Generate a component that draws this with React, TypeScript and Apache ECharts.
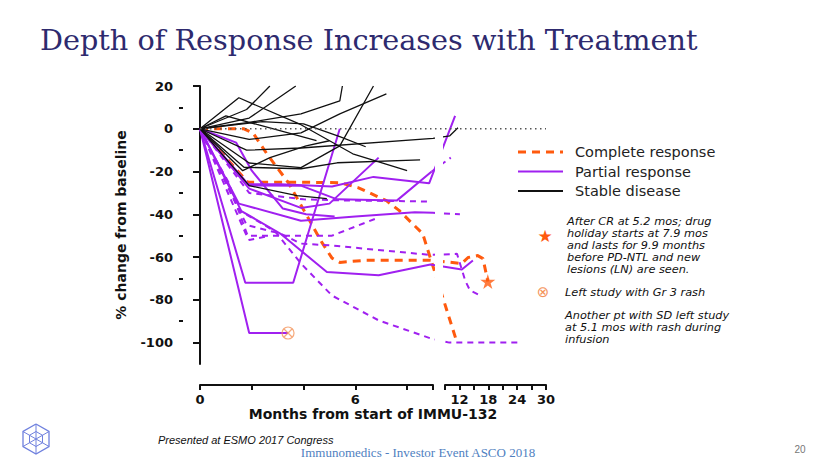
import React, { useEffect, useRef } from 'react';
import * as echarts from 'echarts';

// ---------- data: [months, % change from baseline] ----------
const completeResponse: number[][][] = [
  [[0,0],[1.7,0],[2.05,-2],[2.6,-12],[3.4,-25],[4.1,-40],[4.7,-53],[5.1,-60.5],[5.4,-62.5],[6.4,-61.5],[8.9,-61.5],[12.5,-63],[13.8,-60.2],[15.8,-59.3],[16.9,-60.7],[17.9,-71.4]],
  [[0,0],[1.85,-25],[3.9,-25],[5.4,-25.2],[6.1,-27.5],[7.2,-33.6],[7.7,-38.3],[8.2,-44.3],[8.6,-49],[11.5,-100]],
];

const partialResponse: number[][][] = [
  [[0,0],[1.9,-95.5],[3.4,-95.5]],
  [[0,0],[1.75,-72],[3.6,-72],[5.4,0]],
  [[0,0],[1.6,-38.5],[3.1,-49],[4.9,-67],[6.9,-68.5],[8.9,-63.5],[12.5,-65.8],[14.8,-61.6]],
  [[0,0],[1.5,-35],[3.9,-43],[6.0,-41],[8.3,-39],[9.0,-39.3]],
  [[0,0],[1.8,-26],[3.1,-26],[5.1,-27],[6.7,-22.5],[8.85,-25.5],[11.1,6]],
  [[0,0],[1.9,-28],[3.9,-37],[5.0,-35],[6.9,-13.5]],
  [[0,0],[1.9,-26.5],[3.9,-26.6],[5.3,-33],[7.6,-33.6],[8.95,-20]],
  [[0,0],[1.4,-6.5],[2.0,-19.6],[3.2,-37.3],[4.1,-40],[5.2,-41]],
];

const partialResponseDashed: number[][][] = [
  [[0,0],[1.8,-45],[3.1,-49],[3.9,-53.7],[5.1,-54.6],[8.9,-59],[11.5,-58.5],[12.5,-65.8],[13.2,-71],[14.2,-75.6],[16.7,-78.4]],
  [[0,0],[1.8,-50],[3.0,-50],[5.1,-50],[6.9,-41.5]],
  [[0,0],[1.5,-38],[2.9,-48],[3.9,-63],[5.1,-78],[6.9,-89.6],[8.9,-98],[9.9,-100],[24.2,-100]],
  [[9.0,-39.3],[12.1,-40]],
  [[8.95,-20],[10.2,-13.5]],
  [[0,0],[1.9,-30],[4.0,-33],[5.5,-33.5],[8.8,-34]],
  [[0,0],[0.5,-12],[1.1,-25],[1.6,-42],[1.9,-52],[2.7,-50]],
];

const stableDisease: number[][][] = [
  [[0,0],[1.5,14.5],[3.9,1.9],[5.9,-11.7],[8.0,-19.6]],
  [[0,0],[1.8,9],[2.7,20]],
  [[0,0],[1.9,5],[3.7,20]],
  [[0,0],[1.9,3],[3.9,7],[5.4,13],[5.5,20]],
  [[0,0],[1.9,-16],[3.9,-18.2],[5.4,-8],[6.7,20]],
  [[0,0],[1.9,-5],[3.9,-1.9],[5.4,7],[7.2,16.3]],
  [[0,0],[1.8,-10],[3.9,-9],[9.0,-4.5],[10.0,-3.3],[11.7,0.5]],
  [[0,0],[2.4,3.3],[4.0,2.3],[5.4,-3.7],[6.4,-8.4]],
  [[0,0],[1.7,-18],[3.9,-18.7],[5.3,-15.9],[8.5,-14.5]],
  [[0,0],[1.9,-26.6],[3.75,-31.3],[4.9,-32.7]],
  [[0,0],[1.65,-19.6],[2.7,-13.5],[4.1,-8],[5.0,-5.6]],
  [[0,0],[1.0,6],[2.2,2],[4.5,-5.5]],
];

const yMajorTicks = [-100, -80, -60, -40, -20, 0, 20];
const yMinorTicks = [-90, -70, -50, -30, -10, 10];
const xSeg1Ticks = [0, 2, 4, 6, 8, 9];
const xSeg1Labels = [0, 6];
const legendNames = ['Complete response', 'Partial response', 'Stable disease'];

// ---------- layout of the broken x axis ----------
const GRID_LEFT = 200, GRID_TOP = 86, GRID_H = 278;
const SEG1_PX = 233, GAP_PX = 12, SEG2_PX = 101;
const BREAK = 9, XMAX = 30;
const PX_PER_M1 = SEG1_PX / BREAK;
const pos = (m: number) => (m <= BREAK ? m : BREAK + (GAP_PX + ((m - BREAK) * SEG2_PX) / (XMAX - BREAK)) / PX_PER_M1);
const POS_MAX = BREAK + (GAP_PX + SEG2_PX) / PX_PER_M1;

const ORANGE = '#FF5A0E';
const PURPLE = '#A020F0';
const BLACK = '#111111';
const MARK = '#F4935A';

const STAR = 'path://M50,0 L61,35 L98,35 L68,57 L79,91 L50,70 L21,91 L32,57 L2,35 L39,35 Z';
const OTIMES = 'path://M0,10 A10,10 0 1,1 20,10 A10,10 0 1,1 0,10 Z M2.93,2.93 L17.07,17.07 M17.07,2.93 L2.93,17.07';

function lineSeries(name: string, pts: number[][], color: string, width: number, type: any) {
  return {
    type: 'line', name, xAxisIndex: 0, yAxisIndex: 0, symbol: 'none', silent: true, z: 2,
    data: pts.map(([m, v]) => [pos(m), v]),
    lineStyle: { color, width, type },
    itemStyle: { color },
  };
}

export default function App() {
  const ref = useRef<HTMLDivElement>(null);
  useEffect(() => {
    if (!ref.current) return;
    const chart = echarts.init(ref.current, null, { renderer: 'svg' });
    const crLast = completeResponse[0][completeResponse[0].length - 1];
    const prLast = partialResponse[0][partialResponse[0].length - 1];
    const series: any[] = [
      ...completeResponse.map((p) => lineSeries('Complete response', p, ORANGE, 3, [8, 6])),
      ...partialResponse.map((p) => lineSeries('Partial response', p, PURPLE, 2, 'solid')),
      ...partialResponseDashed.map((p) => lineSeries('Partial response (unconfirmed)', p, PURPLE, 2, [6, 5])),
      ...stableDisease.map((p) => lineSeries('Stable disease', p, BLACK, 1.3, 'solid')),
      {
        type: 'line', name: 'baseline', xAxisIndex: 0, yAxisIndex: 0, symbol: 'none', silent: true, z: 20,
        data: [[0, 0], [POS_MAX, 0]],
        lineStyle: { color: '#555', width: 1.5, type: [1.5, 3.5] },
      },
      {
        type: 'scatter', name: 'star', xAxisIndex: 0, yAxisIndex: 0, silent: true, z: 25,
        data: [[pos(crLast[0]), crLast[1]]], symbol: STAR, symbolSize: 15,
        itemStyle: { color: ORANGE },
      },
      {
        type: 'scatter', name: 'rash', xAxisIndex: 0, yAxisIndex: 0, silent: true, z: 25,
        data: [[pos(prLast[0]), prLast[1]]], symbol: OTIMES, symbolSize: 12,
        itemStyle: { color: 'rgba(0,0,0,0)', borderColor: MARK, borderWidth: 1.2 },
      },
    ];

    const axisLine = { show: true, lineStyle: { color: BLACK, width: 2 } };
    const tickFont = { fontFamily: 'DejaVu Sans', fontWeight: 'bold', fontSize: 13, color: BLACK };
    const italic = { fontFamily: 'DejaVu Sans', fontStyle: 'italic', fontSize: 11.3, fill: '#111' };
    const legendStyles = [
      { stroke: ORANGE, lineWidth: 3, lineDash: [8, 6] },
      { stroke: PURPLE, lineWidth: 2 },
      { stroke: BLACK, lineWidth: 2 },
    ];
    const legendGraphics: any[] = [];
    legendNames.forEach((name, i) => {
      const y = 152 + i * 19.5;
      legendGraphics.push({ type: 'line', silent: true, shape: { x1: 518, y1: y, x2: 563, y2: y }, style: legendStyles[i] });
      legendGraphics.push({ type: 'text', x: 575, y, style: { text: name, fontFamily: 'DejaVu Sans', fontSize: 14.5, fill: '#222', textVerticalAlign: 'middle', verticalAlign: 'middle' } });
    });

    chart.setOption({
      animation: false,
      backgroundColor: '#fff',
      grid: [
        { left: GRID_LEFT, top: GRID_TOP, width: SEG1_PX + GAP_PX + SEG2_PX, height: GRID_H },
        { left: GRID_LEFT, top: 379, width: SEG1_PX, height: 6 },
        { left: GRID_LEFT + SEG1_PX + GAP_PX, top: 379, width: SEG2_PX, height: 6 },
      ],
      xAxis: [
        {
          gridIndex: 0, type: 'value', min: 0, max: POS_MAX,
          axisLine: { show: false }, axisTick: { show: false }, axisLabel: { show: false }, splitLine: { show: false },
          name: 'Months from start of IMMU-132', nameLocation: 'middle', nameGap: 43,
          nameTextStyle: { fontFamily: 'DejaVu Sans', fontWeight: 'bold', fontSize: 14, color: BLACK },
        },
        {
          gridIndex: 1, type: 'value', min: 0, max: BREAK, interval: 1,
          axisLine, axisTick: { show: true, customValues: xSeg1Ticks, length: 5, lineStyle: { width: 2, color: BLACK } },
          axisLabel: { ...tickFont, customValues: xSeg1Labels, margin: 8 }, splitLine: { show: false },
        },
        {
          gridIndex: 2, type: 'value', min: BREAK, max: XMAX, interval: 3,
          axisLine, axisTick: { show: true, length: 5, lineStyle: { width: 2, color: BLACK } },
          axisLabel: { ...tickFont, margin: 8, formatter: (v: number) => (v % 6 === 0 ? String(v) : '') },
          splitLine: { show: false },
        },
      ],
      yAxis: [
        {
          gridIndex: 0, type: 'value', min: -110, max: 20, interval: 10, position: 'left', offset: 17,
          axisLine, axisTick: { show: true, customValues: yMajorTicks, length: 7, lineStyle: { width: 2, color: BLACK } },
          axisLabel: { ...tickFont, customValues: yMajorTicks, margin: 10 }, splitLine: { show: false },
          name: '% change from baseline', nameLocation: 'middle', nameGap: 55,
          nameTextStyle: { fontFamily: 'DejaVu Sans', fontWeight: 'bold', fontSize: 14, color: BLACK },
        },
        {
          gridIndex: 0, type: 'value', min: -110, max: 20, interval: 10, position: 'left', offset: 17,
          axisLine: { show: false }, axisTick: { show: true, customValues: yMinorTicks, length: 4, lineStyle: { width: 2, color: BLACK } },
          axisLabel: { show: false }, splitLine: { show: false },
        },
        { gridIndex: 1, type: 'value', show: false, min: 0, max: 1 },
        { gridIndex: 2, type: 'value', show: false, min: 0, max: 1 },
      ],
      series,
      graphic: [
        { type: 'rect', z: 10, silent: true, shape: { x: GRID_LEFT + SEG1_PX + 2, y: GRID_TOP - 2, width: GAP_PX - 4, height: GRID_H + 4 }, style: { fill: '#fff' } },
        { type: 'text', x: 40, y: 25, style: { text: 'Depth of Response Increases with Treatment', fontFamily: 'DejaVu Serif', fontSize: 28.7, fill: '#2E2A6E' } },
        ...legendGraphics,
        { type: 'text', x: 545, y: 236, style: { text: '★', fontFamily: 'DejaVu Sans', fontSize: 17, fill: ORANGE, textAlign: 'center', align: 'center', textVerticalAlign: 'middle', verticalAlign: 'middle' } },
        { type: 'text', x: 567, y: 216, style: { text: 'After CR at 5.2 mos; drug\nholiday starts at 7.9 mos\nand lasts for 9.9 months\nbefore PD-NTL and new\nlesions (LN) are seen.', lineHeight: 11.8, ...italic } },
        { type: 'text', x: 543, y: 292, style: { text: '⊗', fontFamily: 'DejaVu Sans', fontSize: 15, fill: MARK, textAlign: 'center', align: 'center', textVerticalAlign: 'middle', verticalAlign: 'middle' } },
        { type: 'text', x: 565, y: 286, style: { text: 'Left study with Gr 3 rash', lineHeight: 12, ...italic } },
        { type: 'text', x: 565, y: 309, style: { text: 'Another pt with SD left study\nat 5.1 mos with rash during\ninfusion', lineHeight: 12, ...italic } },
        { type: 'text', x: 158, y: 434, style: { text: 'Presented at ESMO 2017 Congress', fontFamily: 'Liberation Sans', fontStyle: 'italic', fontSize: 11, fill: '#111' } },
        { type: 'text', x: 418, y: 452, style: { text: 'Immunomedics - Investor Event ASCO 2018', fontFamily: 'Liberation Serif', fontSize: 13, fill: '#4F7FBF', textAlign: 'center', align: 'center', textVerticalAlign: 'middle', verticalAlign: 'middle' } },
        { type: 'text', x: 800, y: 449, style: { text: '20', fontFamily: 'Liberation Sans', fontSize: 10, fill: '#777', textAlign: 'center', align: 'center', textVerticalAlign: 'middle', verticalAlign: 'middle' } },
        {
          type: 'group', x: 36, y: 439, silent: true,
          children: [
            { type: 'polyline', shape: { points: [[0,-15],[13,-7.5],[13,7.5],[0,15],[-13,7.5],[-13,-7.5],[0,-15]] }, style: { fill: 'none', stroke: '#6F80DE', lineWidth: 1.3 } },
            { type: 'polyline', shape: { points: [[0,-7.5],[6.5,-3.75],[6.5,3.75],[0,7.5],[-6.5,3.75],[-6.5,-3.75],[0,-7.5]] }, style: { fill: 'none', stroke: '#6F80DE', lineWidth: 1 } },
            { type: 'line', shape: { x1: 0, y1: -15, x2: 0, y2: 15 }, style: { stroke: '#6F80DE', lineWidth: 1 } },
            { type: 'line', shape: { x1: -13, y1: -7.5, x2: 13, y2: 7.5 }, style: { stroke: '#6F80DE', lineWidth: 1 } },
            { type: 'line', shape: { x1: 13, y1: -7.5, x2: -13, y2: 7.5 }, style: { stroke: '#6F80DE', lineWidth: 1 } },
          ],
        },
      ],
    });
    return () => chart.dispose();
  }, []);
  return <div ref={ref} style={{ position: 'fixed', left: 0, top: 0, width: 830, height: 467 }} />;
}
